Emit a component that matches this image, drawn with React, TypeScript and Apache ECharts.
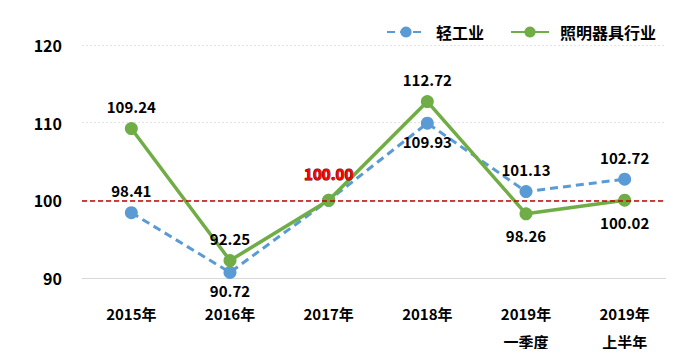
import React, { useEffect, useRef } from "react";
import * as echarts from "echarts";

const categories = ["2015年", "2016年", "2017年", "2018年", "2019年\n一季度", "2019年\n上半年"];
const lightIndustry = [98.41, 90.72, 100.0, 109.93, 101.13, 102.72];
const lighting = [109.24, 92.25, 100.0, 112.72, 98.26, 100.02];
const lightPos = ["top", "bottom", "hidden", "bottom", "top", "top"];
const lightingPos = ["top", "top", "special", "top", "bottom", "bottom"];
const yTicks = { min: 90, max: 120, interval: 10 };
const refValue = 100;

const FONT = "'Noto Sans CJK SC', 'Noto Sans', sans-serif";

export default function App() {
  const ref = useRef<HTMLDivElement>(null);
  useEffect(() => {
    if (!ref.current) return;
    const chart = echarts.init(ref.current, undefined, { renderer: "svg" });
    const baseLabel = {
      show: true,
      fontFamily: FONT,
      fontWeight: "bold" as const,
      fontSize: 15,
      color: "#000",
      distance: 8,
      formatter: (p: any) => Number(p.value).toFixed(2),
    };
    const blueData = lightIndustry.map((v, i) => ({
      value: v,
      label:
        lightPos[i] === "hidden"
          ? { show: false }
          : { ...baseLabel, position: lightPos[i], distance: lightPos[i] === "bottom" ? 4 : 8 },
    }));
    const greenData = lighting.map((v, i) => ({
      value: v,
      label:
        lightingPos[i] === "special"
          ? {
              ...baseLabel,
              position: "top",
              distance: 13,
              color: "#FF0000",
              textBorderColor: "#600000",
              textBorderWidth: 1,
            }
          : { ...baseLabel, position: lightingPos[i] },
    }));
    chart.setOption({
      animation: false,
      grid: { left: 82, right: -1, top: 45, bottom: 79, containLabel: false },
      legend: {
        top: 19,
        left: 381,
        itemWidth: 38,
        itemHeight: 14,
        itemGap: 26,
        textStyle: { fontFamily: FONT, fontWeight: "bold", fontSize: 16, color: "#000", padding: [0, 0, 0, 6] },
        data: ["轻工业", "照明器具行业"],
      },
      xAxis: {
        type: "category",
        data: categories,
        boundaryGap: true,
        axisLine: { show: true, lineStyle: { color: "#d9d9d9", width: 1 } },
        axisTick: { show: false },
        axisLabel: {
          fontFamily: FONT,
          fontWeight: "bold",
          fontSize: 15,
          color: "#000",
          margin: 21,
          lineHeight: 28,
          verticalAlign: "top",
        },
      },
      yAxis: {
        type: "value",
        min: yTicks.min,
        max: yTicks.max,
        interval: yTicks.interval,
        axisLine: { show: false },
        axisTick: { show: false },
        splitLine: { show: true, lineStyle: { color: "#e3e3e3", type: [2, 2], width: 1 } },
        axisLabel: {
          fontFamily: FONT,
          fontWeight: "bold",
          fontSize: 16,
          color: "#000",
          margin: 20,
        },
      },
      series: [
        {
          name: "轻工业",
          type: "line",
          data: blueData,
          symbol: "circle",
          symbolSize: 13,
          itemStyle: { color: "#5B9BD5" },
          lineStyle: { color: "#5B9BD5", width: 3, type: [8, 5] },
          z: 2,
          markLine: {
            silent: true,
            symbol: "none",
            label: { show: false },
            lineStyle: { color: "#C00000", type: [5, 3], width: 1.5 },
            data: [{ yAxis: refValue }],
          },
        },
        {
          name: "照明器具行业",
          type: "line",
          data: greenData,
          symbol: "circle",
          symbolSize: 13,
          itemStyle: { color: "#70AD47" },
          lineStyle: { color: "#70AD47", width: 3.5 },
          z: 3,
        },
      ],
    });
    return () => chart.dispose();
  }, []);
  return <div ref={ref} style={{ width: 674, height: 357, margin: -8 }} />;
}
